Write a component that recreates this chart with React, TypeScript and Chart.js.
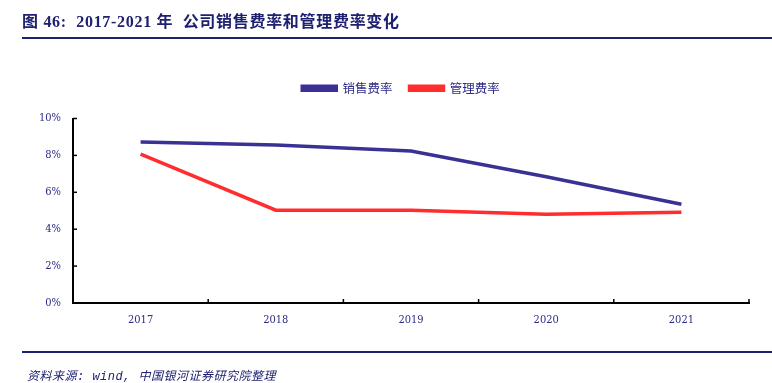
import React, { useEffect, useRef } from "react";
import { Chart, registerables } from "chart.js";

Chart.register(...registerables);

const years = ["2017", "2018", "2019", "2020", "2021"];
const salesRate = [8.72, 8.56, 8.24, 6.84, 5.35];
const adminRate = [8.07, 5.03, 5.03, 4.81, 4.92];
const seriesNames = ["销售费率", "管理费率"];
const titleText = "图 46:  2017-2021 年  公司销售费率和管理费率变化";
const sourceText = "资料来源: wind, 中国银河证券研究院整理";

const NAVY = "#2B2A86";

const innerTicks = {
  id: "innerTicks",
  afterLayout(chart: any) {
    // shift legend box so it is centred like the reference
    const lg = chart.legend;
    if (lg) {
      lg.left = 30;
      lg.right = chart.width;
    }
  },
  afterDraw(chart: any) {
    const ctx = chart.ctx;
    const x = chart.scales.x;
    const y = chart.scales.y;
    ctx.save();
    ctx.strokeStyle = "#000";
    ctx.lineWidth = 1.5;
    y.ticks.forEach((t: any) => {
      const py = y.getPixelForValue(t.value);
      ctx.beginPath();
      ctx.moveTo(x.left, py);
      ctx.lineTo(x.left + 4, py);
      ctx.stroke();
    });
    const n = years.length;
    for (let i = 0; i <= n; i++) {
      let px;
      if (i === 0) px = x.left;
      else if (i === n) px = x.right;
      else px = (x.getPixelForValue(i - 1) + x.getPixelForValue(i)) / 2;
      ctx.beginPath();
      ctx.moveTo(px, y.bottom);
      ctx.lineTo(px, y.bottom - 4);
      ctx.stroke();
    }
    ctx.restore();
  },
};

function LineChart() {
  const ref = useRef<HTMLCanvasElement>(null);
  useEffect(() => {
    const chart = new Chart(ref.current!, {
      type: "line",
      data: {
        labels: years,
        datasets: [
          {
            label: seriesNames[0],
            data: salesRate,
            borderColor: "#3A3194",
            backgroundColor: "#3A3194",
            borderWidth: 3.5,
            pointRadius: 0,
            tension: 0,
          },
          {
            label: seriesNames[1],
            data: adminRate,
            borderColor: "#FF2D2D",
            backgroundColor: "#FF2D2D",
            borderWidth: 3.5,
            pointRadius: 0,
            tension: 0,
          },
        ],
      },
      options: {
        animation: false,
        responsive: false,
        maintainAspectRatio: false,
        layout: { padding: { top: 65, right: 23, bottom: 0, left: 0 } },
        plugins: {
          tooltip: { enabled: false },
          legend: {
            display: true,
            position: "top",
            labels: {
              boxWidth: 34,
              boxHeight: 4,
              padding: 17,
              color: NAVY,
              font: { family: "'Noto Sans CJK SC'", size: 12.5 },
            },
          },
        },
        scales: {
          x: {
            offset: true,
            grid: { display: false, offset: true },
            border: { display: true, color: "#000", width: 2 },
            ticks: {
              color: NAVY,
              padding: 3,
              font: { family: "'DejaVu Serif Condensed', 'Liberation Serif'", size: 11 },
            },
            afterFit(scale: any) {
              scale.height = 80;
            },
          },
          gap: {
            type: "category",
            position: "top",
            display: true,
            grid: { display: false },
            border: { display: false },
            ticks: { display: false },
            afterFit(scale: any) {
              scale.height = 14;
            },
          },
          y: {
            min: 0,
            max: 10,
            ticks: {
              stepSize: 2,
              color: NAVY,
              padding: 4,
              font: { family: "'DejaVu Serif Condensed', 'Liberation Serif'", size: 11 },
              callback: (v: any) => v + "%",
            },
            grid: { display: false },
            border: { display: true, color: "#000", width: 2 },
            afterFit(scale: any) {
              scale.width = 73;
            },
          },
        },
      } as any,
      plugins: [innerTicks],
    });
    return () => chart.destroy();
  }, []);
  return <canvas ref={ref} width={772} height={383} style={{ position: "absolute", left: 0, top: 0 }} />;
}

export default function App() {
  useEffect(() => {
    document.body.style.margin = "0";
  }, []);
  return (
    <div style={{ position: "relative", width: 772, height: 383, background: "#fff", overflow: "hidden" }}>
      <LineChart />
      <div
        style={{
          position: "absolute",
          left: 22,
          top: 8,
          fontFamily: "'Liberation Serif', 'Noto Sans CJK SC'",
          fontWeight: "bold",
          fontSize: 16,
          color: "#1E2170",
          whiteSpace: "pre",
          letterSpacing: 0.7,
        }}
      >
        {titleText}
      </div>
      <div style={{ position: "absolute", left: 22, top: 37, width: 750, height: 2, background: "#1E2170" }} />
      <div style={{ position: "absolute", left: 22, top: 351, width: 750, height: 2, background: "#1E2170" }} />
      <div
        style={{
          position: "absolute",
          left: 27,
          top: 366,
          fontFamily: "'Liberation Mono', 'Noto Sans CJK SC'",
          fontStyle: "italic",
          fontSize: 12,
          color: "#1E2170",
          whiteSpace: "pre",
          letterSpacing: 0.5,
        }}
      >
        {sourceText}
      </div>
    </div>
  );
}
